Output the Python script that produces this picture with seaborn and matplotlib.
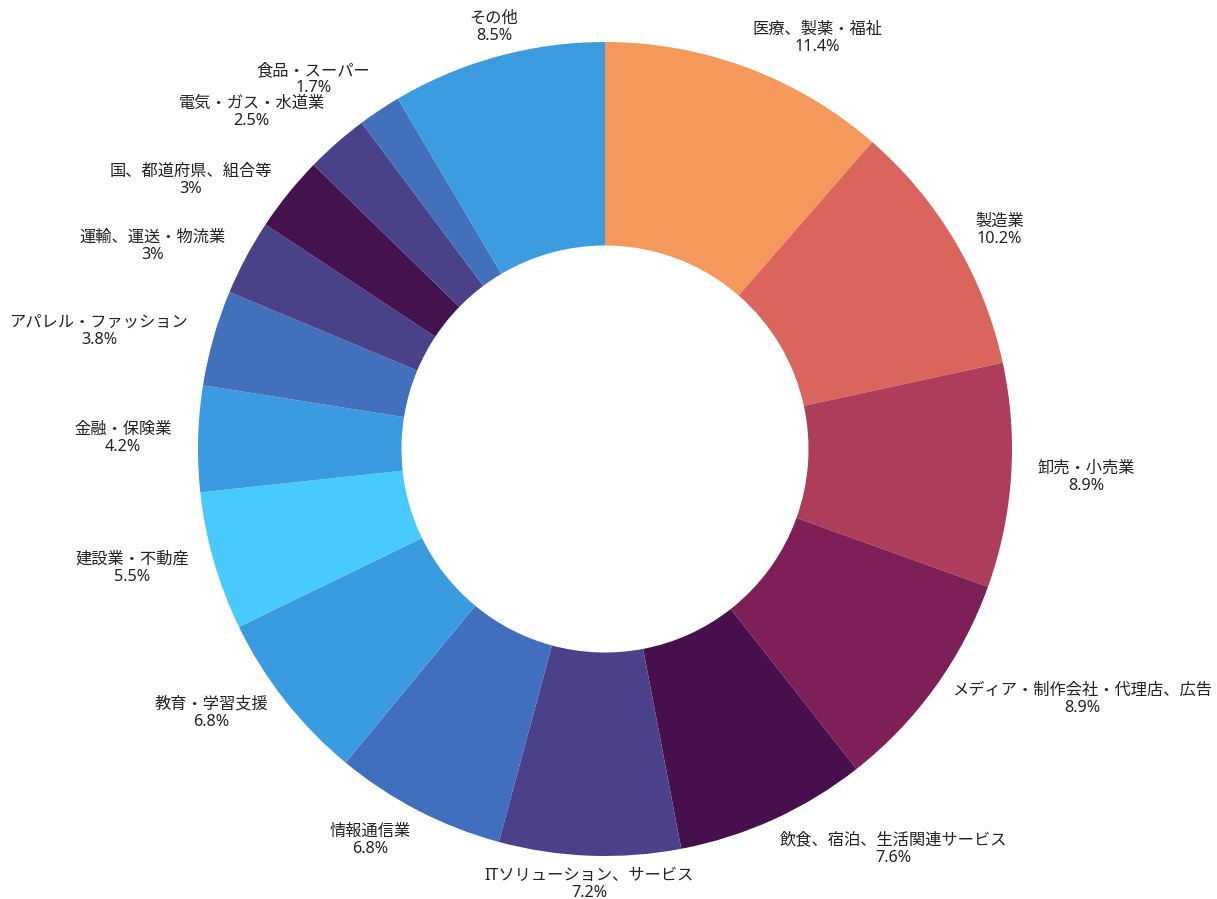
import numpy as np
import matplotlib.pyplot as plt
import seaborn as sns

# industry shares (%), clockwise from 12 o'clock
industries = ['医療、製薬・福祉', '製造業', '卸売・小売業', 'メディア・制作会社・代理店、広告',
              '飲食、宿泊、生活関連サービス', 'ITソリューション、サービス', '情報通信業',
              '教育・学習支援', '建設業・不動産', '金融・保険業', 'アパレル・ファッション',
              '運輸、運送・物流業', '国、都道府県、組合等', '電気・ガス・水道業',
              '食品・スーパー', 'その他']
shares = [11.4, 10.2, 8.9, 8.9, 7.6, 7.2, 6.8, 6.8, 5.5, 4.2, 3.8, 3, 3, 2.5, 1.7, 8.5]
pct_labels = ['11.4%', '10.2%', '8.9%', '8.9%', '7.6%', '7.2%', '6.8%', '6.8%',
              '5.5%', '4.2%', '3.8%', '3%', '3%', '2.5%', '1.7%', '8.5%']
slice_colors = ['#f5985c', '#d9655c', '#ae3c5b', '#7e1f57', '#47104d', '#4a418a',
                '#426fbd', '#3a9ce0', '#48cbfc', '#3b9be0', '#4270bb', '#4a4289',
                '#44134e', '#4a4289', '#4270bb', '#3b9de0']

sns.set_theme(style='white')
plt.rcParams['font.family'] = ['Noto Sans', 'Noto Sans CJK JP', 'DejaVu Sans']

fig = plt.figure(figsize=(12.17, 8.99), dpi=100)
ax = fig.add_axes([0, 0, 1, 1])
palette = sns.color_palette(slice_colors)

wedges, _ = ax.pie(shares, colors=palette, startangle=90, counterclock=False,
                   radius=1.0, wedgeprops=dict(width=0.5, linewidth=0))

# labels just outside each slice, nearest side of the text box on the ray
for w, name, pct in zip(wedges, industries, pct_labels):
    ang = np.deg2rad((w.theta1 + w.theta2) / 2)
    c, s = np.cos(ang), np.sin(ang)
    r = 1.03 + 0.035 * c ** 2
    if abs(c) < 0.3:
        ha = 'center'
    else:
        ha = 'left' if c > 0 else 'right'
    if s > 0.65:
        va = 'bottom'
    elif s < -0.65:
        va = 'top'
    else:
        va = 'center'
    ax.text(r * c, r * s, f'{name}\n{pct}', ha=ha, va=va, multialignment='center',
            fontsize=11.7, color='#222222', linespacing=1.1)

R = 407.0
ax.set_xlim(-605 / R, (1217 - 605) / R)
ax.set_ylim(-(899 - 449) / R, 449 / R)
ax.axis('off')

fig.savefig('out.png', dpi=100, facecolor='white')
